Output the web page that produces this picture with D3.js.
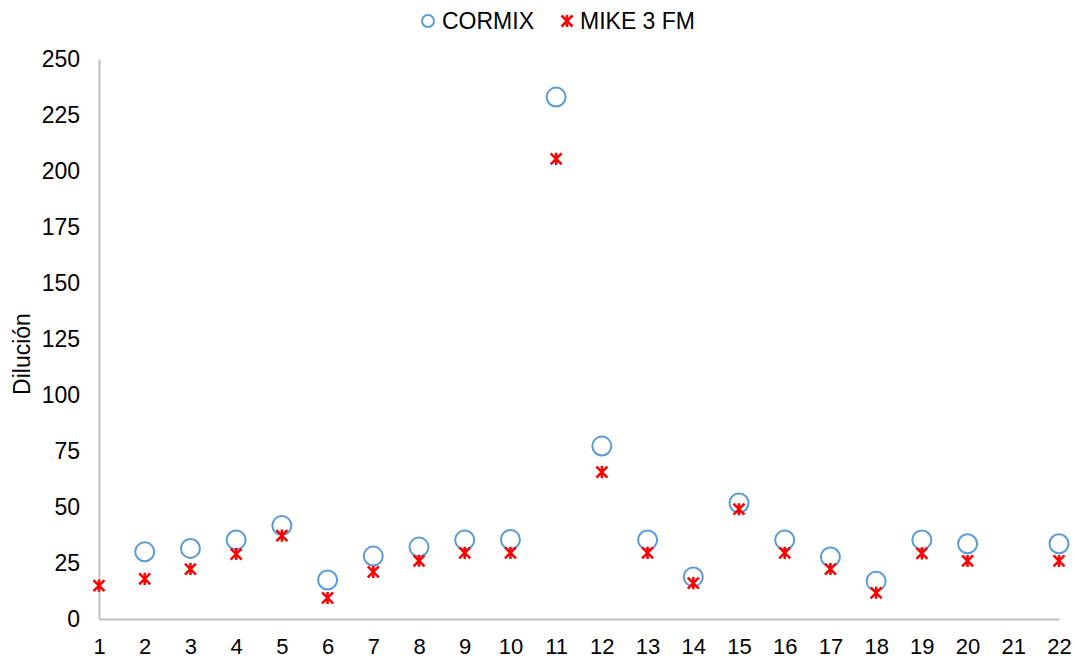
<!DOCTYPE html>
<html>
<head>
<meta charset="utf-8">
<script src="https://cdn.jsdelivr.net/npm/d3@7"></script>
<style>
  body { margin: 0; background: #fff; }
  text { font-family: "Liberation Sans", Arial, sans-serif; fill: #000; }
</style>
</head>
<body>
<svg id="chart" width="1076" height="659"></svg>
<script>
// data (null = no point)
const cases = d3.range(1, 23);
const cormix = [null, 30, 31.5, 35.3, 41.7, 17.4, 28.1, 32.1, 35.3, 35.5, 233, 77.2, 35.3, 18.8, 51.8, 35.3, 27.7, 16.9, 35.3, 33.6, null, 33.6];
const mike = [14.9, 17.9, 22.3, 29, 37.2, 9.4, 21, 26, 29.5, 29.5, 205.4, 65.6, 29.5, 16, 49, 29.5, 22.3, 11.7, 29.3, 25.9, null, 25.9];
const yTicks = [0, 25, 50, 75, 100, 125, 150, 175, 200, 225, 250];

const svg = d3.select('#chart');
const mLeft = 99, mRight = 1059, mTop = 59, mBottom = 619;

const x = d3.scaleLinear().domain([1, 22]).range([mLeft, mRight]);
const y = d3.scaleLinear().domain([0, 250]).range([mBottom, mTop]);

// axes
const yAxis = svg.append('g')
  .attr('transform', `translate(${mLeft},0)`)
  .call(d3.axisLeft(y).tickValues(yTicks).tickSize(0).tickPadding(19));
yAxis.select('.domain').attr('stroke', '#bfbfbf').attr('stroke-width', 2);
yAxis.selectAll('text').style('font-size', '23px');

const xAxis = svg.append('g')
  .attr('transform', `translate(0,${mBottom})`)
  .call(d3.axisBottom(x).tickValues(cases).tickFormat(d3.format('d')).tickSize(0).tickPadding(19));
xAxis.select('.domain').attr('stroke', '#bfbfbf').attr('stroke-width', 2);
xAxis.selectAll('text').style('font-size', '22px');

svg.append('text')
  .attr('transform', `translate(30,354) rotate(-90)`)
  .attr('text-anchor', 'middle')
  .style('font-size', '23px')
  .text('Dilución');

// star marker: x cross plus vertical bar
function star(g, cx, cy, s) {
  g.append('path')
    .attr('d', `M${cx - s},${cy - s}L${cx + s},${cy + s}M${cx - s},${cy + s}L${cx + s},${cy - s}M${cx},${cy - s * 1.1}L${cx},${cy + s * 1.1}`)
    .attr('stroke', '#ff0000')
    .attr('stroke-width', 2.5)
    .attr('fill', 'none');
}

const pts = cases.map((c, i) => ({c: c, a: cormix[i], b: mike[i]}));

svg.append('g').selectAll('circle')
  .data(pts.filter(d => d.a != null))
  .enter()
  .append('circle')
  .attr('cx', d => x(d.c))
  .attr('cy', d => y(d.a))
  .attr('r', 9.5)
  .attr('fill', 'none')
  .attr('stroke', '#5b9bd5')
  .attr('stroke-width', 2);

const mg = svg.append('g');
pts.filter(d => d.b != null).forEach(d => star(mg, x(d.c), y(d.b), 5.5));

// legend
const lg = svg.append('g');
lg.append('circle').attr('cx', 428).attr('cy', 21).attr('r', 6)
  .attr('fill', 'none').attr('stroke', '#5b9bd5').attr('stroke-width', 2);
lg.append('text').attr('x', 442).attr('y', 29).style('font-size', '23px').text('CORMIX');
star(lg, 567, 21, 5.5);
lg.append('text').attr('x', 580).attr('y', 29).style('font-size', '23px').text('MIKE 3 FM');
</script>
</body>
</html>
